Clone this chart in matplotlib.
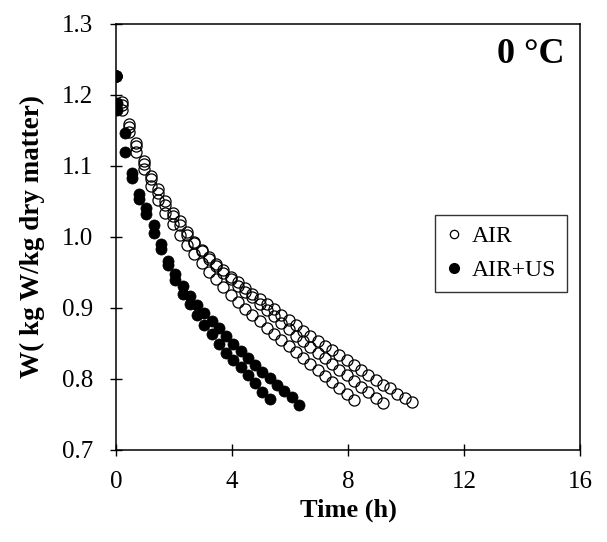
import numpy as np
import matplotlib
matplotlib.use("Agg")
import matplotlib.pyplot as plt
from matplotlib.lines import Line2D
from matplotlib.ticker import FormatStrFormatter

# AIR replicates (h, kg W/kg dry matter)
t_air_1 = [0, 0.2, 0.45, 0.7, 0.95, 1.2, 1.45, 1.7, 1.95, 2.2, 2.45, 2.7, 2.95,
           3.2, 3.45, 3.7, 3.95, 4.2, 4.45, 4.7, 4.95, 5.2, 5.45, 5.7, 5.95,
           6.2, 6.45, 6.7, 6.95, 7.2, 7.45, 7.7, 7.95, 8.2, 8.45, 8.7, 8.95,
           9.2, 9.45, 9.7, 9.95, 10.2]
w_air_1 = [1.226, 1.190, 1.159, 1.132, 1.107, 1.086, 1.068, 1.051, 1.034, 1.022,
           1.007, 0.993, 0.982, 0.972, 0.962, 0.954, 0.944, 0.937, 0.928, 0.920,
           0.912, 0.905, 0.898, 0.890, 0.883, 0.876, 0.868, 0.861, 0.854, 0.846,
           0.840, 0.834, 0.827, 0.820, 0.812, 0.805, 0.798, 0.792, 0.787, 0.779,
           0.773, 0.768]

t_air_2 = [0, 0.2, 0.45, 0.7, 0.95, 1.2, 1.45, 1.7, 1.95, 2.2, 2.45, 2.7, 2.95,
           3.2, 3.45, 3.7, 3.95, 4.2, 4.45, 4.7, 4.95, 5.2, 5.45, 5.7, 5.95,
           6.2, 6.45, 6.7, 6.95, 7.2, 7.45, 7.7, 7.95, 8.2, 8.45, 8.7, 8.95, 9.2]
w_air_2 = [1.226, 1.186, 1.155, 1.128, 1.103, 1.081, 1.062, 1.045, 1.030, 1.016,
           1.003, 0.991, 0.980, 0.969, 0.959, 0.949, 0.940, 0.931, 0.923, 0.915,
           0.906, 0.897, 0.888, 0.879, 0.870, 0.861, 0.853, 0.845, 0.837, 0.829,
           0.821, 0.813, 0.805, 0.797, 0.789, 0.781, 0.773, 0.766]

t_air_3 = [0, 0.2, 0.45, 0.7, 0.95, 1.2, 1.45, 1.7, 1.95, 2.2, 2.45, 2.7, 2.95,
           3.2, 3.45, 3.7, 3.95, 4.2, 4.45, 4.7, 4.95, 5.2, 5.45, 5.7, 5.95,
           6.2, 6.45, 6.7, 6.95, 7.2, 7.45, 7.7, 7.95, 8.2]
w_air_3 = [1.226, 1.178, 1.148, 1.120, 1.095, 1.072, 1.052, 1.034, 1.018, 1.003,
           0.989, 0.976, 0.963, 0.951, 0.940, 0.929, 0.918, 0.908, 0.899, 0.890,
           0.881, 0.872, 0.863, 0.855, 0.846, 0.838, 0.829, 0.821, 0.812, 0.804,
           0.795, 0.787, 0.778, 0.770]

# AIR+US replicates
t_us_1 = [0, 0.05, 0.3, 0.55, 0.8, 1.05, 1.3, 1.55, 1.8, 2.05, 2.3, 2.55, 2.8,
          3.05, 3.3, 3.55, 3.8, 4.05, 4.3, 4.55, 4.8, 5.05, 5.3]
w_us_1 = [1.226, 1.178, 1.120, 1.083, 1.054, 1.032, 1.006, 0.983, 0.961, 0.939,
          0.920, 0.905, 0.890, 0.876, 0.863, 0.849, 0.837, 0.826, 0.816, 0.805,
          0.794, 0.781, 0.771]

t_us_2 = [0, 0.05, 0.3, 0.55, 0.8, 1.05, 1.3, 1.55, 1.8, 2.05, 2.3, 2.55, 2.8,
          3.05, 3.3, 3.55, 3.8, 4.05, 4.3, 4.55, 4.8, 5.05, 5.3, 5.55, 5.8,
          6.05, 6.3]
w_us_2 = [1.226, 1.188, 1.146, 1.090, 1.060, 1.040, 1.017, 0.990, 0.966, 0.947,
          0.931, 0.917, 0.904, 0.893, 0.882, 0.871, 0.860, 0.849, 0.839, 0.829,
          0.820, 0.810, 0.801, 0.792, 0.783, 0.774, 0.763]

x_ticks = [0, 4, 8, 12, 16]
y_ticks = [0.7, 0.8, 0.9, 1.0, 1.1, 1.2, 1.3]

plt.rcParams['font.family'] = ['Liberation Serif', 'DejaVu Serif']

fig = plt.figure(figsize=(6.07, 5.42), dpi=100)
ax = fig.add_axes([0.191, 0.170, 0.765, 0.786])

# open circles first, filled dots on top
for t, w in [(t_air_1, w_air_1), (t_air_2, w_air_2), (t_air_3, w_air_3)]:
    ax.plot(t, w, 'o', ls='none', ms=8, mfc='none', mec='black', mew=0.9, zorder=2)
for t, w in [(t_us_1, w_us_1), (t_us_2, w_us_2)]:
    ax.plot(t, w, 'o', ls='none', ms=8, mfc='black', mec='black', mew=0.5, zorder=3)

ax.set_xlim(0, 16)
ax.set_ylim(0.7, 1.3)
ax.set_xticks(x_ticks)
ax.set_yticks(y_ticks)
ax.yaxis.set_major_formatter(FormatStrFormatter('%.1f'))
ax.tick_params(direction='inout', length=9, width=1, labelsize=18,
               top=False, right=False)
ax.tick_params(axis='x', pad=11)
ax.tick_params(axis='y', pad=12)
for s in ax.spines.values():
    s.set_linewidth(1.1)

ax.set_xlabel('Time (h)', fontsize=19, fontweight='bold', labelpad=4)
ax.set_ylabel('W( kg W/kg dry matter)', fontsize=19.5, fontweight='bold', labelpad=12)

ax.text(0.966, 0.927, '0 °C', transform=ax.transAxes, ha='right', va='center',
        fontsize=26, fontweight='bold')

handles = [
    Line2D([], [], marker='o', ls='none', ms=6, mfc='none', mec='black', mew=0.9),
    Line2D([], [], marker='o', ls='none', ms=7, mfc='black', mec='black'),
]
leg = ax.legend(handles, ['AIR', 'AIR+US'], loc='upper left',
                bbox_to_anchor=(0.6875, 0.552), borderaxespad=0,
                fontsize=17, frameon=True, fancybox=False, edgecolor='black',
                handlelength=0.7, handletextpad=0.4, labelspacing=0.55,
                borderpad=0.45)
leg.get_frame().set_linewidth(1.0)

fig.savefig('out.png', dpi=100)
